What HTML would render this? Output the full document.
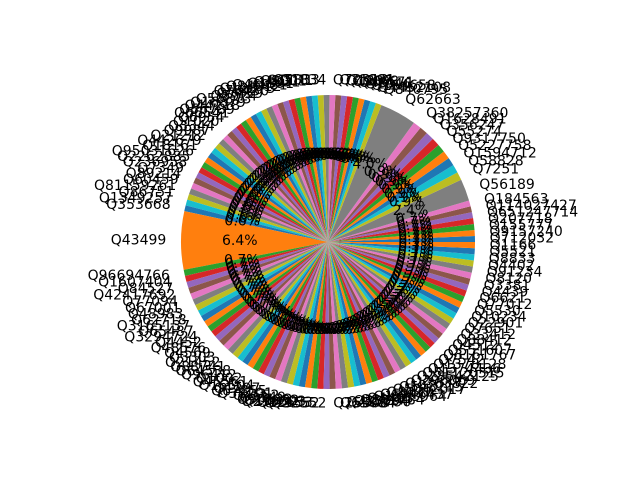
<!DOCTYPE html>
<html><head><meta charset="utf-8">
<style>
html,body{margin:0;padding:0;background:#fff;}
svg{display:block;font-family:"DejaVu Sans","Liberation Sans",sans-serif;}
</style></head>
<body>
<svg id="chart" width="640" height="480" viewBox="0 0 640 480">
<rect width="640" height="480" fill="#fff"/>
<g id="slices"></g>
<g id="pcts"></g>
<g id="labels"></g>
</svg>
<script>
const sliceValues = [
0.65,0.65,0.65,0.65,0.65,0.65,0.65,2.4,0.9,0.9,
0.9,0.9,0.9,0.9,0.9,0.9,0.9,4.0,0.64,0.64,
0.64,0.64,0.64,0.64,0.64,0.64,0.64,0.64,0.64,0.64,
0.64,0.64,0.64,0.64,0.64,0.64,0.64,0.64,0.64,0.64,
0.64,0.64,0.64,0.64,0.64,0.64,0.64,0.64,0.64,0.64,
0.64,0.64,0.64,0.64,0.64,0.64,0.64,0.64,0.64,0.64,
0.64,6.4,0.67,0.67,0.67,0.67,0.67,0.67,0.67,0.67,
0.67,0.67,0.67,0.67,0.67,0.67,0.67,0.67,0.67,0.67,
0.67,0.67,0.67,0.67,0.67,0.67,0.67,0.67,0.67,0.67,
0.67,0.67,0.67,0.67,0.67,0.67,0.67,0.67,0.67,0.67,
0.67,0.67,0.67,0.67,0.67,0.67,0.67,0.67,0.67,0.67,
0.67,0.67,0.67,0.67,0.67,0.67,0.67,0.67,0.67,0.67,
0.67,0.67,0.67,0.67,0.67,0.67,0.67,0.67,0.67,0.67,
0.67,0.67
];
const sliceLabels = [
"Q712032","Q9157240","Q155777","Q207718","Q651247714","Q114027427","Q184563","Q56189","Q7251","Q58828",
"Q1594712","Q5227758","Q9317750","Q55274","Q356247","Q1628491","Q38257360","Q62663","Q840795","Q4452108",
"Q164658","Q1046","Q48571","Q9008","Q1207","Q31891","Q72313","Q1834","Q5833","Q1171",
"Q9001","Q4831","Q1391","Q46931","Q84012","Q12873","Q78430","Q7459","Q5924","Q50873",
"Q16879","Q44218","Q56789","Q66541","Q6954","Q1020","Q3344","Q9987","Q21212","Q442679",
"Q18161","Q95031626","Q2262885","Q236958","Q7349","Q89214","Q60459","Q81159261","Q86751","Q1349257",
"Q353668","Q43499","Q96694766","Q1607404","Q84527","Q42417692","Q77094","Q67001","Q48983","Q62718",
"Q3165137","Q65487","Q3294724","Q4452","Q48576","Q4569","Q3303","Q21452","Q88741","Q64538",
"Q96412","Q1002","Q45561","Q16504","Q1297","Q67855","Q38201","Q4552","Q3349","Q90122",
"Q12932","Q299503","Q82653","Q79552","Q32552","Q25508","Q63084","Q482790","Q33794","Q891784",
"Q4495","Q1553964","Q6946437","Q8437","Q5042017","Q548215","Q1363822","Q296069","Q28542125","Q51120315",
"Q1374436","Q1378128","Q7542","Q3161767","Q551607","Q4512","Q88412","Q33412","Q7651","Q22901",
"Q10234","Q5530","Q77012","Q6621","Q4439","Q3381","Q8120","Q91234","Q4402","Q8833",
"Q5521","Q1166"
];
const colors=["#1f77b4","#ff7f0e","#2ca02c","#d62728","#9467bd","#8c564b","#e377c2","#7f7f7f","#bcbd22","#17becf"];
const cx=328, cy=242, R=147;
const NS="http://www.w3.org/2000/svg";
const total=sliceValues.reduce((a,b)=>a+b,0);
function angleOf(v){return v/total*2*Math.PI;}
function px(a,r){return cx+r*Math.cos(a);}
function py(a,r){return cy-r*Math.sin(a);}
const gS=document.getElementById('slices'),gP=document.getElementById('pcts'),gL=document.getElementById('labels');
let a0=0;
sliceValues.forEach((v,i)=>{
  const da=angleOf(v), a1=a0+da, mid=a0+da/2;
  const p=document.createElementNS(NS,'path');
  const large=da>Math.PI?1:0;
  p.setAttribute('d',`M${cx},${cy} L${px(a0,R)},${py(a0,R)} A${R},${R} 0 ${large} 0 ${px(a1,R)},${py(a1,R)} Z`);
  p.setAttribute('fill',colors[i%10]);
  
  
  gS.appendChild(p);
  const t=document.createElementNS(NS,'text');
  t.setAttribute('x',px(mid,R*0.6));t.setAttribute('y',py(mid,R*0.6));
  t.setAttribute('text-anchor','middle');t.setAttribute('dominant-baseline','central');
  t.setAttribute('font-size','14');t.setAttribute('fill','#000');
  t.textContent=(v/total*100).toFixed(1)+'%';
  
  
  gP.appendChild(t);
  const l=document.createElementNS(NS,'text');
  l.setAttribute('x',px(mid,R*1.1));l.setAttribute('y',py(mid,R*1.1));
  l.setAttribute('text-anchor',Math.cos(mid)>=0?'start':'end');
  l.setAttribute('dominant-baseline','central');
  l.setAttribute('font-size','14');l.setAttribute('fill','#000');
  l.textContent=sliceLabels[i]||('Q'+i);
  
  
  gL.appendChild(l);
  a0=a1;
});
</script>
</body></html>
